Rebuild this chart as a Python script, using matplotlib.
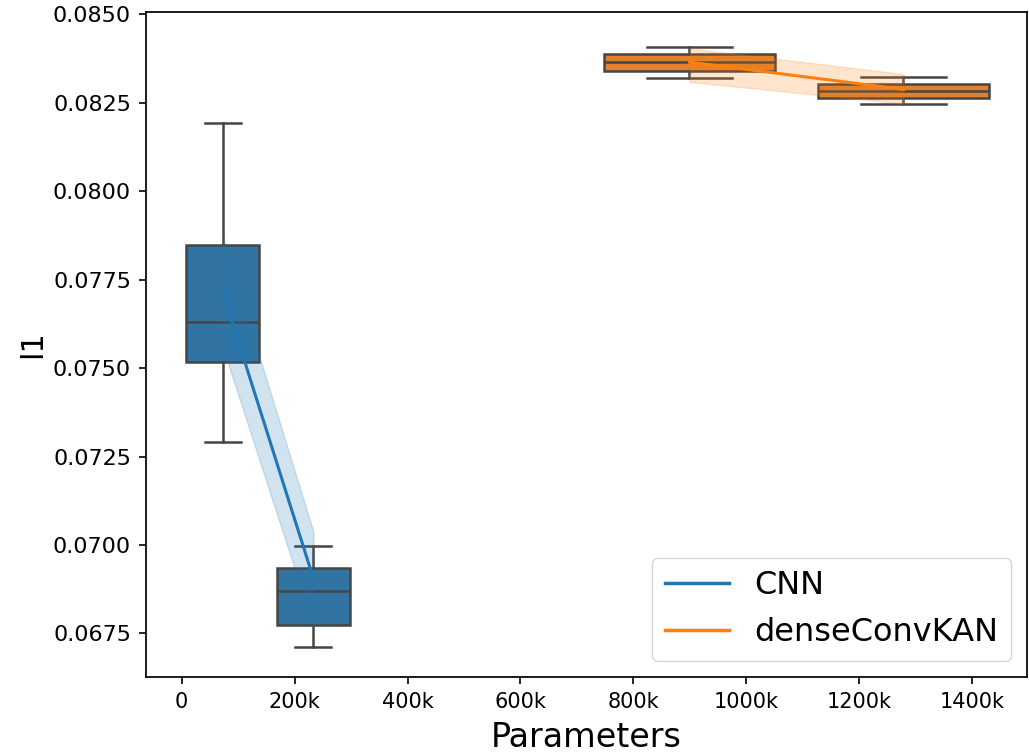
import numpy as np
import matplotlib
matplotlib.use("Agg")
import matplotlib.pyplot as plt
from matplotlib.ticker import FuncFormatter

# data
models = ["CNN", "denseConvKAN"]
params = {"CNN": [72.6e3, 233.1e3], "denseConvKAN": [899.2e3, 1278.3e3]}
whislo = {"CNN": [0.07292, 0.06711], "denseConvKAN": [0.08320, 0.08248]}
q1 = {"CNN": [0.07518, 0.06775], "denseConvKAN": [0.08340, 0.08264]}
med = {"CNN": [0.07630, 0.06869], "denseConvKAN": [0.08364, 0.08284]}
q3 = {"CNN": [0.07849, 0.06936], "denseConvKAN": [0.08387, 0.08303]}
whishi = {"CNN": [0.08192, 0.06998], "denseConvKAN": [0.08408, 0.08323]}
mean = {"CNN": [0.07715, 0.06906], "denseConvKAN": [0.08365, 0.08288]}
ci_lo = {"CNN": [0.07560, 0.06770], "denseConvKAN": [0.08309, 0.08248]}
ci_hi = {"CNN": [0.07870, 0.07038], "denseConvKAN": [0.08404, 0.08331]}

line_colors = {"CNN": "#1f77b4", "denseConvKAN": "#ff7f0e"}
box_colors = {"CNN": "#3274a1", "denseConvKAN": "#e1812c"}

fig = plt.figure(figsize=(10.29, 7.55), dpi=100)
ax = fig.add_axes([0.1422, 0.1033, 0.8558, 0.8812])

for m in models:
    x = np.array(params[m])
    w = 0.8 * np.min(np.diff(x))
    stats = []
    for i in range(len(x)):
        stats.append(dict(whislo=whislo[m][i], q1=q1[m][i], med=med[m][i],
                          q3=q3[m][i], whishi=whishi[m][i], fliers=[]))
    edge = "#454545"
    ax.bxp(stats, positions=x, widths=w, patch_artist=True, manage_ticks=False,
           boxprops=dict(facecolor=box_colors[m], edgecolor=edge, linewidth=1.8),
           medianprops=dict(color=edge, linewidth=1.8),
           whiskerprops=dict(color=edge, linewidth=1.8),
           capprops=dict(color=edge, linewidth=1.8), zorder=2)

for m in models:
    x = np.array(params[m])
    ax.fill_between(x, ci_lo[m], ci_hi[m], color=line_colors[m], alpha=0.2,
                    linewidth=1, zorder=3)
    ax.plot(x, mean[m], color=line_colors[m], linewidth=2.2, label=m, zorder=4)

ax.set_xlim(-62.7e3, 1497e3)
ax.set_ylim(0.066267, 0.085076)
ax.set_xticks(np.arange(0, 1400001, 200000))
ax.xaxis.set_major_formatter(FuncFormatter(lambda v, p: "0" if v == 0 else f"{int(v/1000)}k"))
ax.set_yticks(np.arange(0.0675, 0.08501, 0.0025))
ax.yaxis.set_major_formatter(FuncFormatter(lambda v, p: f"{v:.4f}"))
ax.tick_params(axis="y", labelsize=16, length=5, width=1.2, pad=6)
ax.tick_params(axis="x", labelsize=15, length=5, width=1.2, pad=6)
for s in ax.spines.values():
    s.set_linewidth(1.25)

ax.set_xlabel("Parameters", fontsize=24, labelpad=6)
ax.set_ylabel("l1", fontsize=22)

leg = ax.legend(loc="lower right", fontsize=23, handlelength=2)
for h in leg.get_lines():
    h.set_linewidth(2.5)

fig.savefig("out.png", dpi=100)
